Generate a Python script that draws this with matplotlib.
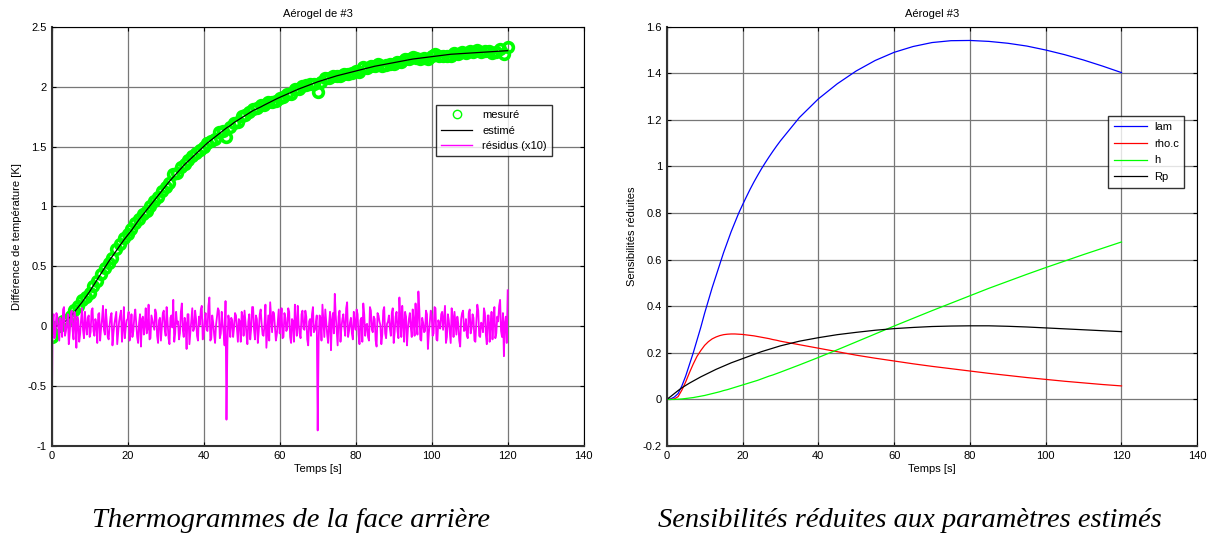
import matplotlib
matplotlib.use("Agg")
import matplotlib.pyplot as plt
import numpy as np
from matplotlib.ticker import FuncFormatter

plt.rcParams['font.family'] = ['Liberation Sans', 'DejaVu Sans']
plt.rcParams['axes.unicode_minus'] = False

# ---- left chart: thermograms (1 s steps) ----
t_est = list(range(0, 121))
estime = [
    0.00, 0.00, 0.01, 0.03, 0.05, 0.08, 0.12, 0.16, 0.20, 0.245,
    0.29, 0.34, 0.39, 0.44, 0.49, 0.54, 0.585, 0.63, 0.675, 0.72,
    0.76, 0.80, 0.845, 0.89, 0.93, 0.97, 1.01, 1.05, 1.09, 1.13,
    1.17, 1.21, 1.245, 1.28, 1.315, 1.35, 1.38, 1.41, 1.44, 1.47,
    1.50, 1.53, 1.555, 1.58, 1.605, 1.63, 1.655, 1.675, 1.70, 1.72,
    1.74, 1.76, 1.78, 1.80, 1.815, 1.83, 1.847, 1.863, 1.879, 1.895,
    1.91, 1.924, 1.938, 1.952, 1.966, 1.98, 1.992, 2.004, 2.016, 2.028,
    2.04, 2.05, 2.06, 2.07, 2.08, 2.09, 2.098, 2.106, 2.114, 2.122,
    2.13, 2.138, 2.146, 2.154, 2.162, 2.17, 2.176, 2.182, 2.188, 2.194,
    2.20, 2.206, 2.212, 2.218, 2.224, 2.23, 2.234, 2.238, 2.242, 2.246,
    2.25, 2.254, 2.258, 2.262, 2.266, 2.27, 2.272, 2.274, 2.276, 2.278,
    2.28, 2.282, 2.284, 2.286, 2.288, 2.29, 2.292, 2.294, 2.296, 2.298,
    2.30,
]

# residuals x10, in hundredths, at t = 0, 0.5, 1.0 ... 120 s
residus_a = [
    -87, 10, -5, 8, -12, 3, 14, -8, 2, -15, 9, -3, 12, -18, 5, -6, 15, -10, 1, 7,
    -9, 13, -4, 6, -14, 11, -2, 17, -7, 4, -11, 8, -16, 2, 12, -5, 9, -13, 16, -1,
    6, -12, 10, -4, 14, -9, 3, -17, 8, 1, -6, 18, -10, 5, -3, 11, -14, 7, -1, 13,
    -8, 4, -15, 9, 22, -6, 2, -11, 12, -3, 7, -19, 10, -5, 15, -2, 6, -12, 1, 17,
    -7, 11, -4, 24, -10, 3, -14, 8, 13, -6, 2, -16, -78, 9, -9, 5, -1, 9, -13, 4,
    12, -8, 3, -15, 10, -2, 16, -11, 6, -4, 14, -7, 1, -18, 9, 20, -5, 11, -12, 3,
    -6, 15, -9, 7, -2, 12, -14, 4, 18, -8, 1, -10, 13, -3, 8, -16, 6, 10, -5, 2,
    -87, 9, -12, 5, 14, -7, 2, -20, 11, 27, -4, 8, -13, 6, -1, 15, -9, 3, -6, 12,
    -3, 10, -15, 7, 19, -8, 2, -12, 13, -5, 6, -17, 9, 1, -7, 16, -10, 4, -2, 11,
    -14, 8, -4, 24, -9, 3, 12, -16, 6, -1, 14, -8, 2, 29, -11, 7, -5, 13, -19, 4,
    9, -6, 15, -12, 1, 10, -3, 17, -9, 5, -14, 8, 12, -7, 2, -17, 11, -4, 6, -10,
    14, -2, 7, -13, 18, -8, 3, -5, 11, -15, 9, 1, -11, 16, -6, 4, 22, -9, -25, 8,
    30,
]
# residuals x10, in hundredths, at t = 0.25, 0.75 ... 119.75 s
residus_b = [
    4, -10, 11, -2, 7, -9, 16, -4, 10, -6, 13, -11, 3, 8, -13, 6, -3, 12, -7, 9,
    -5, 15, -8, 2, 10, -12, 6, -3, 14, -9, 1, 11, -6, 7, -15, 4, 13, -2, -10, 5,
    12, -4, -9, 8, 3, -14, 10, 6, -7, 15, -2, -11, 9, 1, 14, -8, 5, -12, 11, -3,
    16, -10, 7, -1, -13, 12, 4, -6, 19, -9, 2, 10, -15, 6, -4, 13, -8, 8, 14, -11,
    5, -3, 17, -12, 9, -7, 1, 15, -10, 12, -5, 21, -14, 3, 7, -9, 11, -2, 6, -13,
    8, 13, -6, 4, -11, 16, -3, 9, -14, 10, 2, -8, 18, -5, -12, 7, 12, -1, -7, 14,
    3, -10, 11, -4, 15, -9, 6, -13, 2, 17, -6, 10, -2, 13, -11, 4, -8, 16, -3, 9,
    -12, 7, 18, -9, 3, -14, 12, 5, -6, 9, -16, 13, -1, 10, -8, 20, -4, 7, -11, 2,
    14, -7, 5, -13, 10, 1, -9, 16, -3, 8, -12, 11, 4, -15, 13, -6, 2, 9, -8, 15,
    -5, 12, -10, 6, 17, -13, 8, -2, 11, -9, 4, 19, -7, 14, -12, 3, -4, 10, -6, 13,
    -8, 16, -11, 5, -2, 12, 7, -14, 10, -5, 15, -9, 3, 8, -12, 6, 13, -3, -8, 11,
    -6, 10, -12, 4, 13, -9, 2, 15, -7, 9, -13, 12, 5, -10, 8, 17, -4, 11, 3, -14,
]
t_res = [i * 0.25 for i in range(481)]
residus_c = []
for a, b in zip(residus_a[:-1], residus_b):
    residus_c += [a, b]
residus_c.append(residus_a[-1])
residus = np.array(residus_c) / 100.0
# measured = estimated + residual/10 (residuals are plotted x10)
mesure = np.array(estime) + np.array(residus_a[::2]) / 1000.0

# ---- right chart: reduced sensitivities ----
t_s = list(range(0, 31)) + list(range(35, 121, 5))
lam = [0, 0.002, 0.01, 0.025, 0.058, 0.10, 0.15, 0.20, 0.255, 0.31, 0.37,
       0.425, 0.48, 0.53, 0.58, 0.63, 0.675, 0.72, 0.76, 0.80, 0.835,
       0.869, 0.902, 0.933, 0.962, 0.99, 1.016, 1.041, 1.065, 1.088, 1.11,
       1.21, 1.29, 1.355, 1.41, 1.455, 1.49, 1.515, 1.532,
       1.54, 1.541, 1.537, 1.529, 1.517, 1.50, 1.48, 1.457, 1.431, 1.403]
rhoc = [0, 0, 0.002, 0.012, 0.04, 0.075, 0.115, 0.152, 0.185, 0.21, 0.232,
        0.248, 0.26, 0.268, 0.274, 0.278, 0.28, 0.281, 0.281, 0.28, 0.279,
        0.277, 0.275, 0.273, 0.27, 0.267, 0.264, 0.261, 0.257, 0.254, 0.25,
        0.235, 0.22, 0.205, 0.19, 0.177, 0.165, 0.153, 0.142,
        0.132, 0.122, 0.112, 0.103, 0.094, 0.086, 0.078, 0.071, 0.064, 0.058]
h = [0, 0, 0, 0.001, 0.002, 0.004, 0.006, 0.008, 0.011, 0.014, 0.017,
     0.021, 0.025, 0.029, 0.033, 0.038, 0.042, 0.047, 0.052, 0.057, 0.062,
     0.067, 0.072, 0.077, 0.082, 0.088, 0.094, 0.10, 0.105, 0.111, 0.117,
     0.148, 0.18, 0.213, 0.247, 0.281, 0.315, 0.348, 0.381,
     0.413, 0.445, 0.477, 0.507, 0.537, 0.566, 0.594, 0.622, 0.649, 0.676]
rp = [0, 0.012, 0.025, 0.038, 0.05, 0.06, 0.07, 0.079, 0.088, 0.097, 0.105,
      0.113, 0.121, 0.129, 0.136, 0.143, 0.15, 0.157, 0.163, 0.169, 0.175,
      0.181, 0.187, 0.193, 0.199, 0.205, 0.21, 0.215, 0.22, 0.225, 0.23,
      0.25, 0.265, 0.278, 0.288, 0.297, 0.304, 0.309, 0.313,
      0.315, 0.316, 0.316, 0.314, 0.311, 0.307, 0.303, 0.299, 0.295, 0.291]

fs = 8
fmt = FuncFormatter(lambda v, p: '%g' % round(v, 3))

def style(ax):
    ax.grid(True, color='#777777', linewidth=0.9)
    ax.set_axisbelow(True)
    ax.tick_params(direction='in', top=True, right=True, length=3,
                   labelsize=fs, width=0.8)
    for s in ax.spines.values():
        s.set_linewidth(0.8)
    ax.spines['left'].set_linewidth(1.5)
    ax.spines['bottom'].set_linewidth(1.5)
    ax.spines['left'].set_color('#333333')
    ax.spines['bottom'].set_color('#333333')
    ax.set_xlim(0, 140)
    ax.set_xticks(range(0, 141, 20))
    ax.yaxis.set_major_formatter(fmt)
    ax.set_xlabel('Temps [s]', fontsize=fs, labelpad=2)

fig = plt.figure(figsize=(12.1, 5.43), dpi=100)

ax1 = fig.add_axes([0.0427, 0.1786, 0.4397, 0.7722])
ax1.plot(t_est, mesure, 'o', color='#00ff00', markerfacecolor='none',
         markersize=7, markeredgewidth=2.6, label='mesuré')
ax1.plot(t_est, estime, color='black', linewidth=0.9, label='estimé')
ax1.plot(t_res, residus, color='#ff00ff', linewidth=1.3, label='résidus (x10)')
ax1.set_ylim(-1, 2.5)
ax1.set_yticks(np.arange(-1, 2.51, 0.5))
style(ax1)
ax1.set_title('Aérogel de #3', fontsize=fs, pad=7)
ax1.set_ylabel('Différence de température [K]', fontsize=fs, labelpad=4)
leg1 = ax1.legend(loc='upper left', bbox_to_anchor=(0.712, 0.826), fontsize=fs,
                  frameon=True, fancybox=False, edgecolor='black',
                  handlelength=2.8, handletextpad=0.9, borderpad=0.45,
                  labelspacing=0.5)
leg1.get_frame().set_linewidth(1.0)
# legend marker drawn thin like the reference
leg1.legend_handles[0].set_markeredgewidth(1.0)
leg1.legend_handles[0].set_markersize(6)
leg1.legend_handles[2].set_linewidth(1.0)

ax2 = fig.add_axes([0.551, 0.1786, 0.4385, 0.7722])
ax2.plot(t_s, lam, color='#0000ff', linewidth=0.9, label='lam')
ax2.plot(t_s, rhoc, color='#ff0000', linewidth=0.9, label='rho.c')
ax2.plot(t_s, h, color='#00ff00', linewidth=0.9, label='h')
ax2.plot(t_s, rp, color='black', linewidth=0.9, label='Rp')
ax2.set_ylim(-0.2, 1.6)
ax2.set_yticks(np.arange(-0.2, 1.61, 0.2))
style(ax2)
ax2.set_title('Aérogel #3', fontsize=fs, pad=7)
ax2.set_ylabel('Sensibilités réduites', fontsize=fs, labelpad=4)
leg2 = ax2.legend(loc='upper left', bbox_to_anchor=(0.822, 0.80), fontsize=fs,
                  frameon=True, fancybox=False, edgecolor='black',
                  handlelength=3.0, handletextpad=0.6, borderpad=0.5,
                  labelspacing=0.62)
leg2.get_frame().set_linewidth(1.0)

fig.text(0.2405, 0.042, 'Thermogrammes de la face arrière', ha='center',
         va='center', fontsize=20.5, style='italic', family='Liberation Serif')
fig.text(0.752, 0.042, 'Sensibilités réduites aux paramètres estimés',
         ha='center', va='center', fontsize=20.5, style='italic',
         family='Liberation Serif')

fig.savefig('out.png', dpi=100)
